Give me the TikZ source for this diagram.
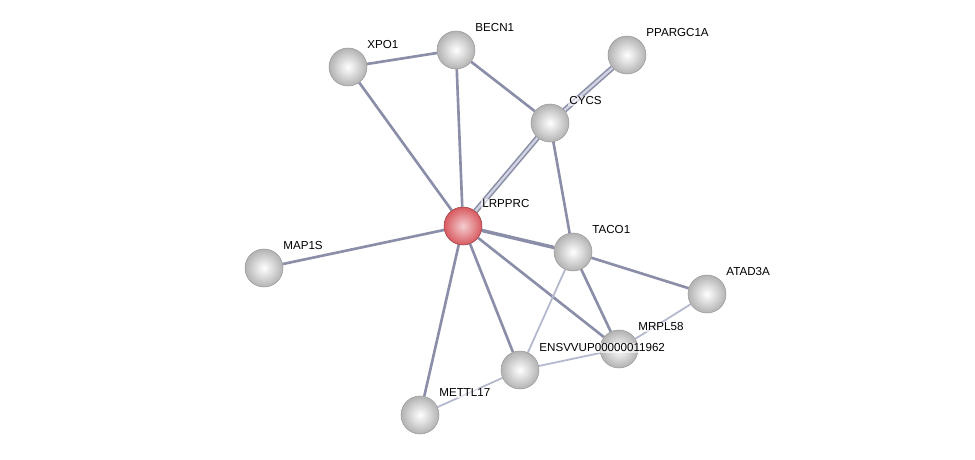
\documentclass[tikz,border=0pt]{standalone}
\usepackage{fontspec}
\setmainfont{Liberation Sans}
\usetikzlibrary{backgrounds}
\definecolor{edgeblue}{HTML}{8A8EA8}
\definecolor{edgelight}{HTML}{B4B8CE}
\definecolor{ballred}{HTML}{D85A60}
\tikzset{
  prot/.style={circle, minimum size=7.6mm, inner sep=0pt, draw=black!40, line width=0.3pt, shading=radial, inner color=white, outer color=black!30},
  hub/.style={prot, draw=ballred!70!black, inner color=ballred!30!white, outer color=ballred},
  lbl/.style={anchor=west, font=\fontsize{6.6}{8}\selectfont, inner sep=0.6pt, fill=white, fill opacity=0.6, text opacity=1},
  lnk/.style={draw=edgeblue, line width=1.5pt},
  weak/.style={draw=edgelight, line width=1pt},
  multi/.style={draw=edgeblue, line width=0.9pt, double=edgelight!60, double distance=1.3pt},
}
\begin{document}
\begin{tikzpicture}[x=0.2mm, y=-0.2mm]
  \useasboundingbox (0,0) rectangle (975,460);
  % proteins
  \node[hub]  (LRPPRC)   at (463,226) {};
  \node[prot] (XPO1)     at (348,67)  {};
  \node[prot] (BECN1)    at (456,50)  {};
  \node[prot] (PPARGC1A) at (627,55)  {};
  \node[prot] (CYCS)     at (550,123) {};
  \node[prot] (TACO1)    at (573,252) {};
  \node[prot] (MAP1S)    at (264,268) {};
  \node[prot] (ATAD3A)   at (707,294) {};
  \node[prot] (MRPL58)   at (619,349) {};
  \node[prot] (ENSV)     at (520,370) {};
  \node[prot] (METTL17)  at (420,415) {};
  % labels
  \foreach \n/\t in {LRPPRC/LRPPRC, XPO1/XPO1, BECN1/BECN1, PPARGC1A/PPARGC1A, CYCS/CYCS,
      TACO1/TACO1, MAP1S/MAP1S, ATAD3A/ATAD3A, MRPL58/MRPL58, ENSV/ENSVVUP00000011962, METTL17/METTL17}
    \node[lbl] (l\n) at ([shift={(18,-22)}]\n.center) {\t};
  % interactions
  \begin{scope}[on background layer]
    \foreach \a/\b in {XPO1/BECN1, XPO1/LRPPRC, BECN1/LRPPRC, BECN1/CYCS, CYCS/TACO1,
        LRPPRC/MAP1S, LRPPRC/MRPL58, LRPPRC/ENSV, LRPPRC/METTL17, TACO1/ATAD3A, TACO1/MRPL58}
      \draw[lnk] (\a)--(\b);
    \draw[lnk, line width=2pt] (LRPPRC)--(TACO1);
    \foreach \a/\b in {TACO1/ENSV, ATAD3A/MRPL58, ENSV/MRPL58, METTL17/ENSV}
      \draw[weak] (\a)--(\b);
    \foreach \a/\b in {LRPPRC/CYCS, CYCS/PPARGC1A}
      \draw[multi] (\a)--(\b);
  \end{scope}
\end{tikzpicture}
\end{document}
